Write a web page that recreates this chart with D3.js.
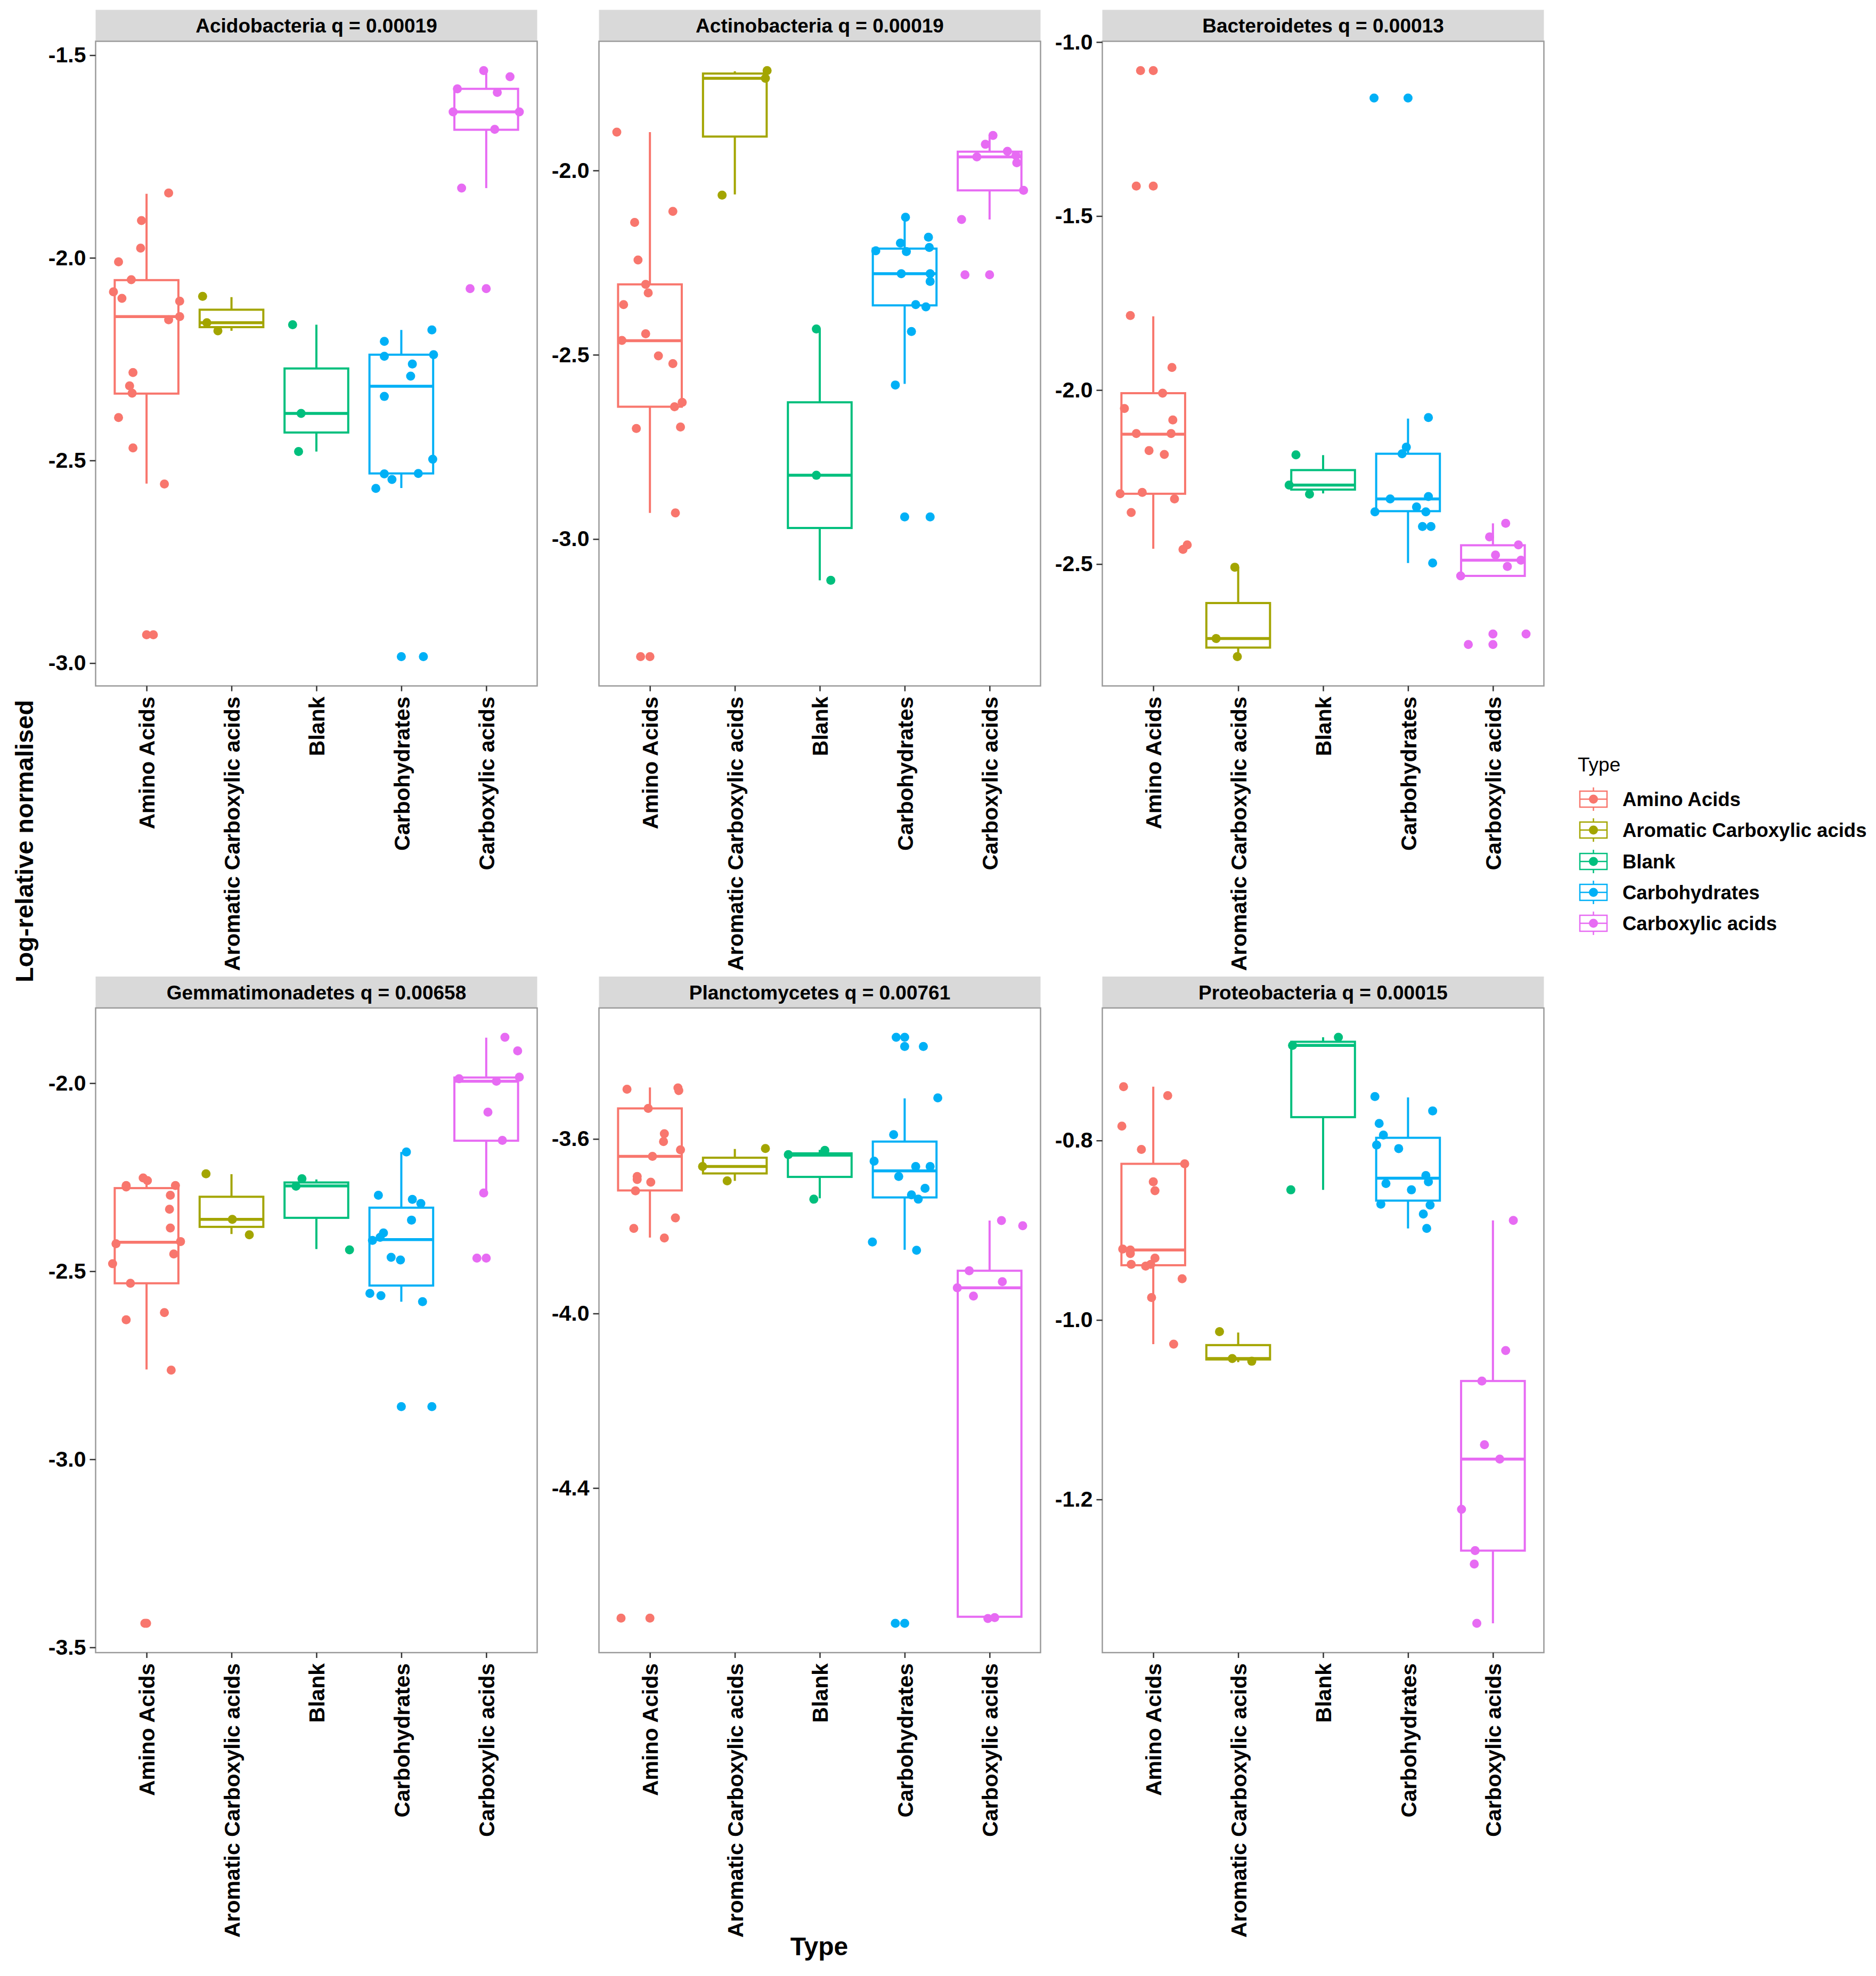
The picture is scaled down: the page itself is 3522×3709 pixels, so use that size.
<!DOCTYPE html>
<html>
<head>
<meta charset="utf-8">
<title>Log-relative normalised by Type</title>
<script src="https://cdnjs.cloudflare.com/ajax/libs/d3/7.8.5/d3.min.js"></script>
<style>
  body { margin: 0; background: #fff; }
  text { font-family: "Liberation Sans", Arial, sans-serif; }
</style>
</head>
<body>
<svg width="3522" height="3709"></svg>
<script>
// categories / facets
const types = ["Amino Acids", "Aromatic Carboxylic acids", "Blank", "Carbohydrates", "Carboxylic acids"];
const colors = ["#F8766D", "#A3A500", "#00BF7D", "#00B0F6", "#E76BF3"];
const phyla = ["Acidobacteria", "Actinobacteria", "Bacteroidetes", "Gemmatimonadetes", "Planctomycetes", "Proteobacteria"];
const qValues = ["0.00019", "0.00019", "0.00013", "0.00658", "0.00761", "0.00015"];
const yTicks = [[-1.5, -2, -2.5, -3], [-2, -2.5, -3], [-1, -1.5, -2, -2.5], [-2, -2.5, -3, -3.5], [-3.6, -4.0, -4.4], [-0.8, -1.0, -1.2]];

// box stats per type: [lower whisker, q1, median, q3, upper whisker]
const acidoBox = [[-2.557, -2.335, -2.145, -2.055, -1.842], [-2.180, -2.171, -2.160, -2.128, -2.097], [-2.478, -2.431, -2.384, -2.273, -2.165], [-2.568, -2.532, -2.317, -2.239, -2.178], [-1.828, -1.684, -1.640, -1.583, -1.538]];
const actinoBox = [[-2.929, -2.641, -2.462, -2.309, -1.896], [-2.065, -1.908, -1.750, -1.737, -1.731], [-3.112, -2.970, -2.827, -2.629, -2.430], [-2.579, -2.366, -2.280, -2.212, -2.127], [-2.133, -2.054, -1.963, -1.949, -1.905]];
const bacteroBox = [[-2.456, -2.298, -2.127, -2.009, -1.788], [-2.766, -2.740, -2.714, -2.612, -2.509], [-2.297, -2.286, -2.273, -2.230, -2.187], [-2.497, -2.348, -2.313, -2.183, -2.082], [-2.534, -2.534, -2.489, -2.446, -2.383]];
const gemmaBox = [[-2.761, -2.532, -2.423, -2.279, -2.252], [-2.401, -2.382, -2.362, -2.302, -2.242], [-2.441, -2.358, -2.273, -2.264, -2.256], [-2.581, -2.538, -2.416, -2.331, -2.183], [-2.292, -2.153, -1.995, -1.985, -1.879]];
const plancBox = [[-3.826, -3.718, -3.640, -3.530, -3.482], [-3.696, -3.679, -3.663, -3.643, -3.623], [-3.736, -3.687, -3.637, -3.633, -3.625], [-3.854, -3.734, -3.673, -3.606, -3.507], [-4.699, -4.695, -3.941, -3.902, -3.787]];
const proteoBox = [[-1.027, -0.939, -0.922, -0.826, -0.740], [-1.047, -1.044, -1.043, -1.028, -1.014], [-0.855, -0.774, -0.694, -0.690, -0.685], [-0.898, -0.867, -0.842, -0.797, -0.752], [-1.338, -1.257, -1.155, -1.068, -0.889]];

// sample values per type
const acidoVals = [
  [-1.840, -1.908, -1.976, -2.010, -2.054, -2.084, -2.100, -2.107, -2.153, -2.145, -2.283, -2.316, -2.334, -2.394, -2.469, -2.558, -2.930],
  [-2.095, -2.160, -2.180],
  [-2.165, -2.384, -2.478],
  [-2.178, -2.206, -2.243, -2.239, -2.262, -2.292, -2.342, -2.497, -2.533, -2.547, -2.532, -2.569, -2.984],
  [-1.538, -1.553, -1.583, -1.592, -1.640, -1.640, -1.683, -1.828, -2.076]];
const actinoVals = [
  [-1.896, -2.111, -2.141, -2.243, -2.309, -2.332, -2.364, -2.443, -2.461, -2.503, -2.524, -2.629, -2.641, -2.700, -2.696, -2.929, -3.319],
  [-1.729, -1.750, -2.067],
  [-2.430, -2.827, -3.112],
  [-2.127, -2.181, -2.197, -2.218, -2.220, -2.209, -2.280, -2.280, -2.301, -2.364, -2.370, -2.437, -2.582, -2.940],
  [-1.905, -1.929, -1.948, -1.963, -1.959, -1.979, -2.054, -2.133, -2.283]];
const bacteroVals = [
  [-1.082, -1.414, -1.786, -1.935, -2.009, -2.053, -2.086, -2.125, -2.125, -2.174, -2.185, -2.298, -2.294, -2.313, -2.352, -2.445, -2.458],
  [-2.509, -2.714, -2.766],
  [-2.186, -2.273, -2.299],
  [-1.161, -2.079, -2.164, -2.183, -2.313, -2.306, -2.350, -2.336, -2.350, -2.392, -2.392, -2.497],
  [-2.383, -2.422, -2.445, -2.474, -2.489, -2.507, -2.534, -2.731, -2.701]];
const gemmaVals = [
  [-2.252, -2.259, -2.272, -2.276, -2.272, -2.298, -2.335, -2.385, -2.421, -2.427, -2.454, -2.480, -2.532, -2.610, -2.629, -2.763, -3.436],
  [-2.241, -2.362, -2.403],
  [-2.254, -2.274, -2.443],
  [-2.183, -2.298, -2.309, -2.320, -2.364, -2.398, -2.418, -2.410, -2.463, -2.470, -2.559, -2.565, -2.581, -2.860],
  [-1.878, -1.914, -1.988, -1.984, -1.995, -2.077, -2.152, -2.292, -2.465]];
const plancVals = [
  [-3.486, -3.483, -3.489, -3.530, -3.588, -3.606, -3.625, -3.640, -3.686, -3.693, -3.699, -3.719, -3.781, -3.805, -3.827, -4.698],
  [-3.663, -3.696, -3.622],
  [-3.636, -3.626, -3.738],
  [-3.367, -3.388, -3.506, -3.590, -3.651, -3.686, -3.663, -3.663, -3.713, -3.728, -3.738, -3.836, -3.855, -4.710],
  [-3.787, -3.799, -3.902, -3.927, -3.941, -3.960, -4.699, -4.697]];
const proteoVals = [
  [-0.740, -0.750, -0.784, -0.810, -0.826, -0.846, -0.856, -0.921, -0.922, -0.926, -0.938, -0.940, -0.938, -0.931, -0.954, -0.975, -1.027],
  [-1.013, -1.043, -1.046],
  [-0.685, -0.694, -0.855],
  [-0.751, -0.767, -0.781, -0.794, -0.805, -0.809, -0.839, -0.846, -0.848, -0.855, -0.871, -0.872, -0.882, -0.898],
  [-0.889, -1.034, -1.068, -1.139, -1.155, -1.211, -1.257, -1.272, -1.338]];

// horizontal jitter of each sample (fraction of category spacing)
const acidoJit = [
  [0.26, -0.06, -0.07, -0.33, -0.18, -0.39, -0.29, 0.39, 0.26, 0.39, -0.16, -0.20, -0.17, -0.33, -0.16, 0.21, 0.08],
  [-0.34, -0.29, -0.16], [-0.28, -0.18, -0.21],
  [0.36, -0.20, -0.20, 0.38, 0.13, 0.11, -0.20, 0.37, -0.20, -0.11, 0.20, -0.30, 0.26],
  [-0.03, 0.28, -0.34, 0.13, -0.39, 0.39, 0.10, -0.29, -0.19]];
const actinoJit = [
  [-0.39, 0.27, -0.18, -0.14, -0.05, -0.02, -0.31, -0.05, -0.33, 0.10, 0.27, 0.38, 0.29, -0.16, 0.36, 0.30, -0.11],
  [0.38, 0.36, -0.15], [-0.04, -0.04, 0.13],
  [0.01, 0.28, -0.05, -0.34, 0.02, 0.29, -0.04, 0.30, 0.30, 0.13, 0.25, 0.08, -0.11, 0.30],
  [0.04, -0.05, 0.21, -0.15, 0.31, 0.32, 0.40, -0.33, -0.29]];
const bacteroJit = [
  [-0.15, -0.20, -0.27, 0.22, 0.11, -0.34, 0.23, -0.20, 0.21, -0.05, 0.13, -0.39, -0.13, 0.25, -0.26, 0.40, 0.35],
  [-0.04, -0.26, -0.01], [-0.32, -0.40, -0.16],
  [-0.40, 0.24, -0.02, -0.07, -0.21, 0.24, -0.39, 0.10, 0.21, 0.17, 0.27, 0.29],
  [0.15, -0.04, 0.30, 0.03, 0.33, 0.17, -0.38, -0.29, 0.39]];
const gemmaJit = [
  [-0.04, 0.01, -0.24, -0.24, 0.34, 0.28, 0.27, 0.28, 0.40, -0.36, 0.32, -0.40, -0.19, 0.21, -0.24, 0.29, -0.02],
  [-0.30, 0.01, 0.21], [-0.17, -0.24, 0.39],
  [0.06, -0.27, 0.13, 0.23, 0.12, -0.21, -0.34, -0.25, -0.12, -0.01, -0.37, -0.24, 0.25, 0.36],
  [0.22, 0.37, -0.32, 0.39, 0.12, 0.02, 0.19, -0.03, -0.11]];
const plancJit = [
  [-0.27, 0.33, 0.34, -0.02, 0.17, 0.16, 0.36, 0.03, -0.15, -0.15, 0.01, -0.17, 0.30, -0.19, 0.17, -0.34],
  [-0.38, -0.09, 0.36], [-0.37, 0.06, -0.07],
  [-0.10, 0.22, 0.39, -0.13, -0.36, -0.07, 0.13, 0.30, 0.24, 0.08, 0.16, -0.38, 0.14, -0.11],
  [0.14, 0.39, -0.24, 0.15, -0.38, -0.19, -0.02, 0.06]];
const proteoJit = [
  [-0.35, 0.17, -0.37, -0.14, 0.37, 0.00, 0.02, -0.36, -0.27, -0.27, -0.26, -0.09, -0.03, 0.02, 0.34, -0.02, 0.24],
  [-0.22, -0.07, 0.16], [0.18, -0.36, -0.38],
  [-0.39, 0.29, -0.34, -0.29, -0.37, -0.11, 0.21, 0.24, -0.26, 0.04, -0.32, 0.26, 0.18, 0.22],
  [0.24, 0.15, -0.13, -0.10, 0.08, -0.37, -0.21, -0.22, -0.19]];

const allBox = [acidoBox, actinoBox, bacteroBox, gemmaBox, plancBox, proteoBox];
const allVals = [acidoVals, actinoVals, bacteroVals, gemmaVals, plancVals, proteoVals];
const allJit = [acidoJit, actinoJit, bacteroJit, gemmaJit, plancJit, proteoJit];

const svg = d3.select("svg");

// layout
const panelLeft = [179.5, 1124.5, 2069.5];
const panelW = 829;
const plotTop = [77.5, 1892];
const plotH = 1210;
const stripH = 59;
const ptR = 8.5;

phyla.forEach((name, i) => {
  const col = i % 3, row = Math.floor(i / 3);
  const g = svg.append("g").attr("transform", `translate(${panelLeft[col]},${plotTop[row]})`);
  const vals = allVals[i], box = allBox[i], jit = allJit[i];

  const flat = vals.flat();
  const [lo, hi] = d3.extent(flat);
  const pad = (hi - lo) * 0.05;
  const y = d3.scaleLinear().domain([lo - pad, hi + pad]).range([plotH, 0]);
  const x = d3.scalePoint().domain(types).range([0, panelW]).padding(0.6);
  const step = x.step();
  const bw = step * 0.75;

  // strip
  g.append("rect").attr("x", 0).attr("y", -stripH).attr("width", panelW).attr("height", stripH).attr("fill", "#d9d9d9");
  g.append("text").attr("x", panelW / 2).attr("y", -stripH / 2).attr("dy", "0.36em")
    .attr("text-anchor", "middle").attr("font-size", 37).attr("font-weight", 700)
    .text(`${name} q = ${qValues[i]}`);

  g.append("rect").attr("width", panelW).attr("height", plotH).attr("fill", "#fff");

  // boxes
  types.forEach((t, j) => {
    const cx = x(t), c = colors[j], b = box[j];
    const bg = g.append("g").attr("stroke", c).attr("fill", "none").attr("stroke-width", 4);
    bg.append("line").attr("x1", cx).attr("x2", cx).attr("y1", y(b[0])).attr("y2", y(b[1]));
    bg.append("line").attr("x1", cx).attr("x2", cx).attr("y1", y(b[3])).attr("y2", y(b[4]));
    bg.append("rect").attr("x", cx - bw / 2).attr("width", bw)
      .attr("y", y(b[3])).attr("height", Math.max(0.5, y(b[1]) - y(b[3]))).attr("fill", "#fff");
    bg.append("line").attr("x1", cx - bw / 2).attr("x2", cx + bw / 2)
      .attr("y1", y(b[2])).attr("y2", y(b[2])).attr("stroke-width", 5.5);
    // boxplot outliers at category centre
    const outs = vals[j].filter(v => v < b[0] - 0.005 || v > b[4] + 0.005);
    g.selectAll(null).data(outs).join("circle")
      .attr("cx", cx).attr("cy", d => y(d)).attr("r", ptR).attr("fill", c);
  });

  // jittered points
  types.forEach((t, j) => {
    const cx = x(t);
    g.selectAll(null).data(vals[j]).join("circle")
      .attr("cx", (d, k) => cx + jit[j][k] * step)
      .attr("cy", d => y(d)).attr("r", ptR).attr("fill", colors[j]);
  });

  // border
  g.append("rect").attr("width", panelW).attr("height", plotH)
    .attr("fill", "none").attr("stroke", "#9a9a9a").attr("stroke-width", 2.5);

  // axes
  const ya = g.append("g").call(d3.axisLeft(y).tickValues(yTicks[i]).tickSize(11).tickPadding(7).tickFormat(d => d.toFixed(1)));
  ya.select(".domain").remove();
  ya.selectAll(".tick line").attr("stroke", "#333").attr("stroke-width", 2.5);
  ya.selectAll(".tick text").attr("font-size", 41).attr("font-weight", 700).attr("fill", "#000")
    .style("font-family", '"Liberation Sans", Arial, sans-serif');

  const xa = g.append("g").attr("transform", `translate(0,${plotH})`).call(d3.axisBottom(x).tickSize(10));
  xa.select(".domain").remove();
  xa.selectAll(".tick line").attr("stroke", "#333").attr("stroke-width", 2.5);
  xa.selectAll(".tick text")
    .attr("transform", "rotate(-90)").attr("x", -20).attr("y", 0).attr("dy", "0.36em")
    .attr("text-anchor", "end").attr("font-size", 41).attr("font-weight", 700).attr("fill", "#000")
    .style("font-family", '"Liberation Sans", Arial, sans-serif');
});

// axis titles
svg.append("text").attr("transform", "translate(62,1579) rotate(-90)")
  .attr("text-anchor", "middle").attr("font-size", 47).attr("font-weight", 700)
  .text("Log-relative normalised");
svg.append("text").attr("x", 1538).attr("y", 3670)
  .attr("text-anchor", "middle").attr("font-size", 48).attr("font-weight", 700)
  .text("Type");

// legend
const legend = svg.append("g").attr("transform", "translate(2966,0)");
legend.append("text").attr("x", -4).attr("y", 1448).attr("font-size", 37).text("Type");
const rowY = [1500, 1558, 1617, 1675, 1733];
types.forEach((t, j) => {
  const cy = rowY[j], c = colors[j];
  const k = legend.append("g").attr("stroke", c).attr("stroke-width", 2.5).attr("fill", "none");
  k.append("line").attr("x1", 25.5).attr("x2", 25.5).attr("y1", cy - 22).attr("y2", cy + 22);
  k.append("rect").attr("x", 0).attr("y", cy - 15).attr("width", 51).attr("height", 30).attr("fill", "#fff");
  k.append("line").attr("x1", 0).attr("x2", 51).attr("y1", cy).attr("y2", cy);
  legend.append("circle").attr("cx", 25.5).attr("cy", cy).attr("r", 8.5).attr("fill", c);
  legend.append("text").attr("x", 80).attr("y", cy).attr("dy", "0.36em")
    .attr("font-size", 36.5).attr("font-weight", 700).text(t);
});
</script>
</body>
</html>
